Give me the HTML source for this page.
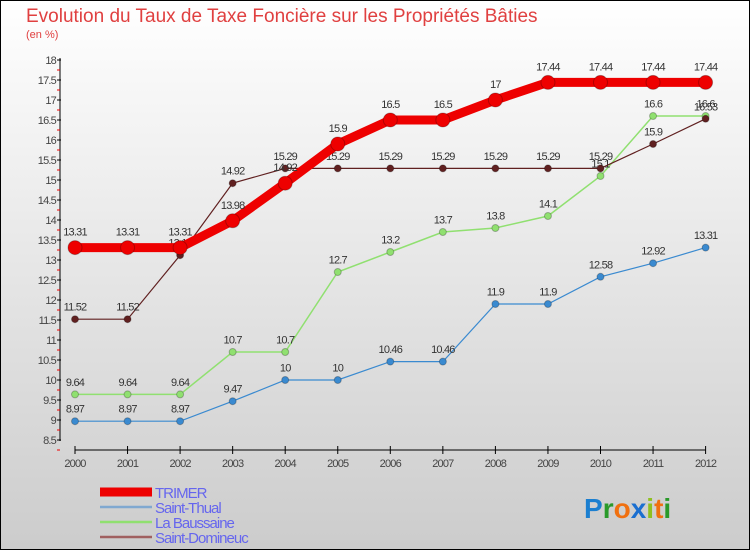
<!DOCTYPE html>
<html><head><meta charset="utf-8"><style>
body{margin:0;}
#c{position:relative;width:750px;height:550px;box-sizing:border-box;border:1px solid #000;background:linear-gradient(#fff,#ccc);font-family:"Liberation Sans",sans-serif;overflow:hidden}
</style></head><body>
<div id="c">
<svg id="s" width="750" height="550" style="position:absolute;left:-1px;top:-1px">
<text x="26" y="22" font-size="19" fill="#e04040">Evolution du Taux de Taxe Foncière sur les Propriétés Bâties</text>
<text x="26" y="38" font-size="11" fill="#e04040">(en %)</text>
</svg>
</div>
<script>
const years=[2000,2001,2002,2003,2004,2005,2006,2007,2008,2009,2010,2011,2012];
const trimer=[13.31,13.31,13.31,13.98,14.92,15.9,16.5,16.5,17,17.44,17.44,17.44,17.44];
const thual=[8.97,8.97,8.97,9.47,10,10,10.46,10.46,11.9,11.9,12.58,12.92,13.31];
const baussaine=[9.64,9.64,9.64,10.7,10.7,12.7,13.2,13.7,13.8,14.1,15.1,16.6,16.6];
const domineuc=[11.52,11.52,13.12,14.92,15.29,15.29,15.29,15.29,15.29,15.29,15.29,15.9,16.53];
const yTicks=[8.5,9,9.5,10,10.5,11,11.5,12,12.5,13,13.5,14,14.5,15,15.5,16,16.5,17,17.5,18];
const NS="http://www.w3.org/2000/svg",s=document.getElementById('s');
const X=i=>75+i*52.55, Y=v=>60+(18-v)*40;
function mk(t,a,p){const e=document.createElementNS(NS,t);for(const k in a)e.setAttribute(k,a[k]);(p||s).appendChild(e);return e;}
// axes
let ax=mk('line',{x1:60,y1:58,x2:60,y2:441,stroke:'#000'});


let xa=mk('line',{x1:75,y1:450,x2:706,y2:450,stroke:'#000'});


yTicks.forEach(v=>{
 mk('line',{x1:57,y1:Y(v),x2:61,y2:Y(v),stroke:'#000'});
 mk('line',{x1:57,y1:Y(v)+10,x2:60,y2:Y(v)+10,stroke:'#e00'});
 const t=mk('text',{x:56,y:Y(v)+4,'text-anchor':'end','font-size':11,fill:'#444','letter-spacing':'-0.8'});
 t.textContent=v;
 
 
});
years.forEach((y,i)=>{
 mk('line',{x1:X(i),y1:446,x2:X(i),y2:454,stroke:'#000'});
 const t=mk('text',{x:X(i),y:467,'text-anchor':'middle','font-size':11,fill:'#444','letter-spacing':'-0.8'});
 t.textContent=y;
 
 
});
function series(d,col,lw,r,name){
 const g=mk('g',{});
 
 
 mk('polyline',{points:d.map((v,i)=>X(i)+','+Y(v)).join(' '),fill:'none',stroke:col,'stroke-width':lw},g);
 d.forEach((v,i)=>{
  const c=mk('circle',{cx:X(i),cy:Y(v),r:r,fill:col,stroke:'rgba(0,0,0,0.25)'},g);
  
  
  const t=mk('text',{x:X(i),y:Y(v)-r-5,'text-anchor':'middle','font-size':11,fill:'#333','letter-spacing':'-0.8'},g);
  t.textContent=v;
  
  
 });
}
series(thual,'#3a8ad0',1.2,3.5,'saint-thual');
series(baussaine,'#90e070',1.5,3.5,'la-baussaine');
series(domineuc,'#602020',1.2,3.5,'saint-domineuc');
series(trimer,'#ee0000',9,7,'trimer');
// legend
const leg=[['TRIMER','#ee0000',9],['Saint-Thual','#80a8d0',2.5],['La Baussaine','#90e070',2.5],['Saint-Domineuc','#a06060',2.5]];
leg.forEach((l,i)=>{
 const y=492+i*15;
 const g=mk('g',{});
 
 
 mk('line',{x1:100,y1:y,x2:152,y2:y,stroke:l[1],'stroke-width':l[2]},g);
 const t=mk('text',{x:155,y:y+6,'font-size':15,fill:'#6666ee','letter-spacing':'-1'},g);
 t.textContent=l[0];
});
const lg=mk('text',{x:584,y:518,'font-size':28,'font-weight':'bold','font-family':'Liberation Sans'});


[['P','#1b7fd0'],['r','#2a9a2a'],['o','#f07010'],['x','#1b6fd0'],['i','#90c020'],['t','#f07010'],['i','#2a9a2a']].forEach(p=>{const ts=mk('tspan',{fill:p[1]},lg);ts.textContent=p[0];});
</script>
</body></html>
